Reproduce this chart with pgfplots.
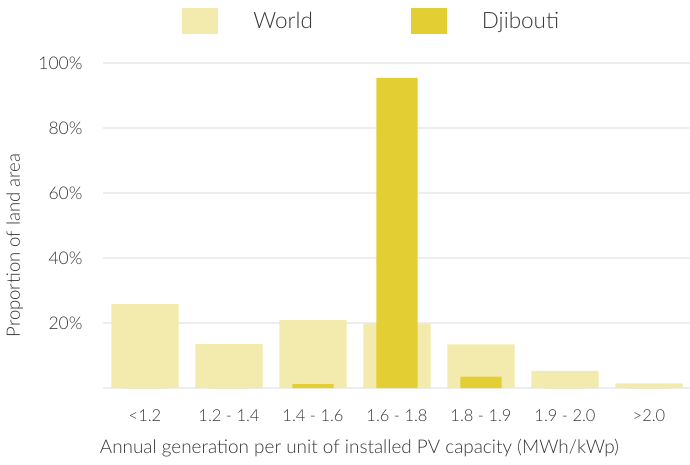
\documentclass[border=0pt]{standalone}
\usepackage{fontspec}
\setmainfont{Lato Light}
\usepackage{pgfplots}
\pgfplotsset{compat=1.18}

\definecolor{worldc}{RGB}{243,235,174}
\definecolor{djic}{RGB}{227,207,52}
\definecolor{gridc}{RGB}{238,238,238}
\definecolor{txt}{RGB}{55,55,55}

\begin{document}
\begin{tikzpicture}
\begin{axis}[
    scale only axis,
    width=588pt, height=325pt,
    xmin=-0.5, xmax=6.5,
    ymin=0, ymax=100,
    ybar,
    axis line style={draw=none},
    tick style={draw=none},
    ymajorgrids,
    grid style={gridc, line width=2pt},
    ytick={0,20,40,60,80,100},
    yticklabels={,20\%,40\%,60\%,80\%,100\%},
    xtick={0,...,6},
    xticklabels={<1.2, 1.2 - 1.4, 1.4 - 1.6, 1.6 - 1.8, 1.8 - 1.9, 1.9 - 2.0, >2.0},
    yticklabel style={anchor=east, xshift=-17pt, font=\fontsize{17.5}{20}\selectfont, text=txt},
    xticklabel style={anchor=base, yshift=-29pt, font=\fontsize{16.5}{19}\selectfont, text=txt},
    xlabel={Annual generation per unit of installed PV capacity (MWh/kWp)},
    ylabel={Proportion of land area},
    xlabel style={at={(axis description cs:0.436,0)}, anchor=base, yshift=-65pt, font=\fontsize{18.9}{22}\selectfont, text=txt},
    ylabel style={at={(axis description cs:-0.15,0.438)}, anchor=center, font=\fontsize{18.5}{22}\selectfont, text=txt},
    legend columns=2,
    legend style={at={(axis description cs:0.457,1)}, anchor=south, yshift=27pt,
        draw=none, fill=none, font=\fontsize{22.5}{26}\selectfont, text=txt,
        /tikz/every even column/.append style={column sep=96pt}},
    legend image code/.code={\fill[#1] (0pt,-13pt) rectangle (36pt,13pt);},
    legend cell align=left,
]
\addplot[fill=worldc, draw=none, bar width=0.8, bar shift=0pt]
    coordinates {(0,25.8) (1,13.5) (2,20.9) (3,19.9) (4,13.4) (5,5.3) (6,1.4)};
\addlegendentry{\hspace{33pt}World}
\addplot[fill=djic, draw=none, bar width=0.49, bar shift=0pt]
    coordinates {(0,0) (1,0) (2,1.2) (3,95.4) (4,3.5) (5,0) (6,0)};
\addlegendentry{\hspace{33pt}Djibouti}
\end{axis}
\pgfresetboundingbox
\path[use as bounding box] (current axis.south west) ++(-103pt,-76pt) rectangle ++(690pt,464pt);
\end{tikzpicture}
\end{document}
